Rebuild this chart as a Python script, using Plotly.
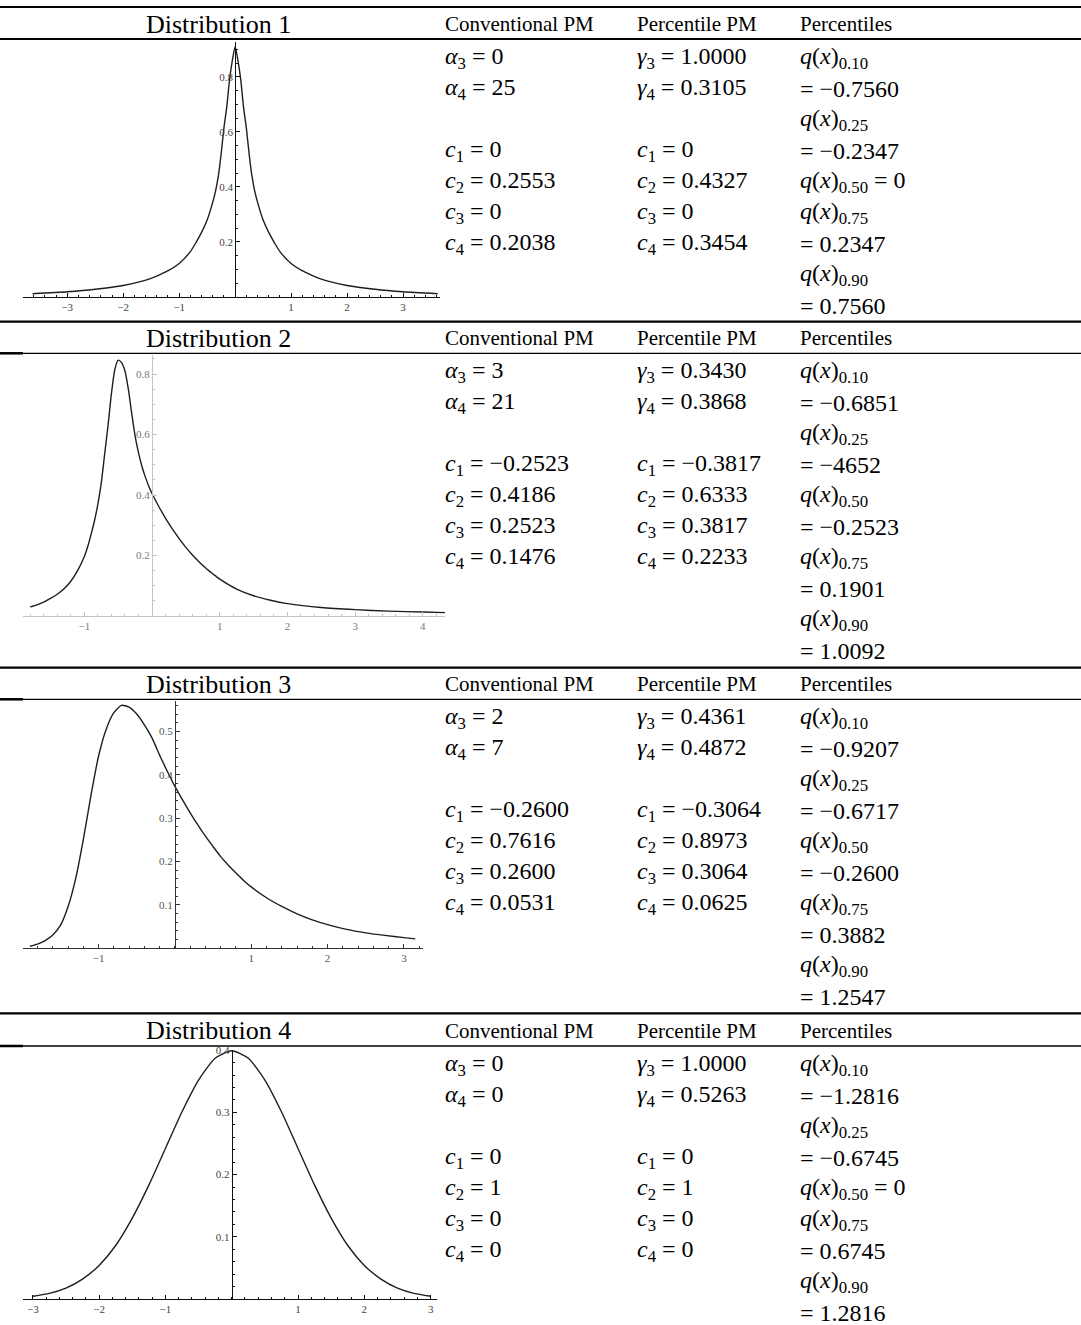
import plotly.graph_objects as go

W, H = 1081, 1325

# ---------------- data ----------------
dist_names = ["Distribution 1", "Distribution 2", "Distribution 3", "Distribution 4"]
col_headers = ["Conventional PM", "Percentile PM", "Percentiles"]

d1_x = [-3.62, -3.0, -2.5, -2.0, -1.5, -1.25, -1.0, -0.8, -0.7, -0.6, -0.5, -0.4, -0.35, -0.3, -0.25, -0.2,
        -0.15, -0.1, -0.05, 0.0, 0.05, 0.1, 0.15, 0.2, 0.25, 0.3, 0.35, 0.4, 0.5, 0.6, 0.7, 0.8, 1.0, 1.25,
        1.5, 2.0, 2.5, 3.0, 3.62]
d1_y = [0.012, 0.019, 0.028, 0.042, 0.068, 0.09, 0.122, 0.165, 0.198, 0.235, 0.28, 0.345, 0.385, 0.44, 0.52, 0.615,
        0.69, 0.79, 0.86, 0.91, 0.86, 0.79, 0.69, 0.615, 0.52, 0.44, 0.385, 0.345, 0.28, 0.235, 0.198, 0.165, 0.122, 0.09,
        0.068, 0.042, 0.028, 0.019, 0.012]

d2_x = [-1.8, -1.7, -1.6, -1.5, -1.4, -1.3, -1.2, -1.1, -1.0, -0.95, -0.9, -0.85, -0.8, -0.75, -0.7, -0.65,
        -0.6, -0.55, -0.5, -0.45, -0.4, -0.35, -0.3, -0.25, -0.2, -0.15, -0.1, -0.05, 0.0, 0.1, 0.2, 0.3,
        0.4, 0.5, 0.6, 0.7, 0.8, 0.9, 1.0, 1.25, 1.5, 1.75, 2.0, 2.5, 3.0, 3.5, 4.0, 4.33]
d2_y = [0.030, 0.037, 0.046, 0.058, 0.072, 0.090, 0.115, 0.150, 0.197, 0.230, 0.270, 0.315, 0.370, 0.440, 0.535, 0.630,
        0.735, 0.815, 0.846, 0.838, 0.810, 0.750, 0.670, 0.595, 0.540, 0.495, 0.460, 0.430, 0.405, 0.362, 0.323, 0.288,
        0.256, 0.227, 0.201, 0.178, 0.157, 0.139, 0.122, 0.089, 0.067, 0.052, 0.041, 0.028, 0.021, 0.016, 0.013, 0.011]

d3_x = [-1.9, -1.8, -1.7, -1.6, -1.5, -1.4, -1.3, -1.2, -1.1, -1.0, -0.9, -0.8, -0.7, -0.6, -0.5, -0.4,
        -0.3, -0.2, -0.1, 0.0, 0.1, 0.2, 0.3, 0.4, 0.5, 0.6, 0.7, 0.8, 0.9, 1.0, 1.2, 1.4, 1.6, 1.8, 2.0,
        2.25, 2.5, 2.75, 3.0, 3.15]
d3_y = [0.004, 0.009, 0.017, 0.030, 0.052, 0.095, 0.160, 0.250, 0.352, 0.443, 0.505, 0.543, 0.560, 0.556, 0.540, 0.515,
        0.485, 0.445, 0.408, 0.373, 0.342, 0.312, 0.284, 0.258, 0.234, 0.211, 0.191, 0.173, 0.156, 0.141, 0.116, 0.096,
        0.079, 0.065, 0.054, 0.043, 0.035, 0.029, 0.024, 0.021]

d4_x = [-3.0, -2.75, -2.5, -2.25, -2.0, -1.75, -1.5, -1.25, -1.0, -0.75, -0.5, -0.25, 0.0,
        0.25, 0.5, 0.75, 1.0, 1.25, 1.5, 1.75, 2.0, 2.25, 2.5, 2.75, 3.0]
d4_y = [0.0044, 0.009, 0.0175, 0.032, 0.054, 0.086, 0.13, 0.183, 0.242, 0.301, 0.352, 0.387, 0.399,
        0.387, 0.352, 0.301, 0.242, 0.183, 0.13, 0.086, 0.054, 0.032, 0.0175, 0.009, 0.0044]

curves_x = [d1_x, d2_x, d3_x, d4_x]
curves_y = [d1_y, d2_y, d3_y, d4_y]

x_tick_vals = [[-3, -2, -1, 1, 2, 3], [-1, 1, 2, 3, 4], [-1, 1, 2, 3], [-3, -2, -1, 1, 2, 3]]
x_tick_text = [["−3", "−2", "−1", "1", "2", "3"], ["−1", "1", "2", "3", "4"],
               ["−1", "1", "2", "3"], ["−3", "−2", "−1", "1", "2", "3"]]
y_tick_vals = [[0.2, 0.4, 0.6, 0.8], [0.2, 0.4, 0.6, 0.8], [0.1, 0.2, 0.3, 0.4, 0.5], [0.1, 0.2, 0.3, 0.4]]
y_tick_text = [["0.2", "0.4", "0.6", "0.8"], ["0.2", "0.4", "0.6", "0.8"],
               ["0.1", "0.2", "0.3", "0.4", "0.5"], ["0.1", "0.2", "0.3", "0.4"]]

alpha3 = ["0", "3", "2", "0"]
alpha4 = ["25", "21", "7", "0"]
conv_c = [["0", "0.2553", "0", "0.2038"],
          ["−0.2523", "0.4186", "0.2523", "0.1476"],
          ["−0.2600", "0.7616", "0.2600", "0.0531"],
          ["0", "1", "0", "0"]]
gamma3 = ["1.0000", "0.3430", "0.4361", "1.0000"]
gamma4 = ["0.3105", "0.3868", "0.4872", "0.5263"]
pct_c = [["0", "0.4327", "0", "0.3454"],
         ["−0.3817", "0.6333", "0.3817", "0.2233"],
         ["−0.3064", "0.8973", "0.3064", "0.0625"],
         ["0", "1", "0", "0"]]
pct_levels = ["0.10", "0.25", "0.50", "0.75", "0.90"]
percentiles = [["−0.7560", "−0.2347", "0", "0.2347", "0.7560"],
               ["−0.6851", "−4652", "−0.2523", "0.1901", "1.0092"],
               ["−0.9207", "−0.6717", "−0.2600", "0.3882", "1.2547"],
               ["−1.2816", "−0.6745", "0", "0.6745", "1.2816"]]

# ---------------- layout geometry (pixels) ----------------
row_top = [7, 321.7, 667.7, 1013.3]
row_head = [39, 353.3, 699.3, 1046]
plot_box = [  # left, right, top, bottom(px, y=0)
    (23, 440, 42, 297),
    (23, 445, 355, 616),
    (23, 423, 701, 948),
    (23, 437, 1050, 1299),
]
x_ranges = [[-3.79, 3.66], [-1.906, 4.327], [-1.99, 3.25], [-3.148, 3.096]]
y_ranges = [[0, 0.927], [0, 0.863], [0, 0.570], [0, 0.4003]]
y_minor = [0.05, 0.05, 0.02, 0.02]
axis_color = ["#111111", "#c4c4c4", "#333333", "#111111"]
label_color = ["#444444", "#7a7a7a", "#555555", "#444444"]
col_x = [443, 635, 798]
dist_center_x = 218.5
line_gap = 31
first_off = 19


def fx(px):
    return px / W


def fy(py):
    return 1 - py / H


fig = go.Figure()
layout = dict(width=W, height=H, margin=dict(l=0, r=0, t=0, b=0, pad=0, autoexpand=False),
              paper_bgcolor="white", plot_bgcolor="rgba(0,0,0,0)", showlegend=False)

tick_font_family = "Liberation Serif, Times New Roman, serif"

for i in range(4):
    n = i + 1
    xa = "xaxis" if n == 1 else f"xaxis{n}"
    ya = "yaxis" if n == 1 else f"yaxis{n}"
    xr = "x" if n == 1 else f"x{n}"
    yr = "y" if n == 1 else f"y{n}"
    l, r, t, b = plot_box[i]
    xdom = [fx(l), fx(r)]
    ydom = [fy(b), fy(t)]
    x0, x1 = x_ranges[i]
    ypos = xdom[0] + (0 - x0) / (x1 - x0) * (xdom[1] - xdom[0])
    layout[xa] = dict(domain=xdom, range=x_ranges[i], anchor=yr, showgrid=False, zeroline=False,
                      showline=True, linecolor=axis_color[i], linewidth=1, automargin=False,
                      ticks="inside", ticklen=4, tickwidth=1, tickcolor=axis_color[i],
                      tickmode="array", tickvals=x_tick_vals[i], ticktext=x_tick_text[i],
                      tickfont=dict(family=tick_font_family, size=11, color=label_color[i]),
                      minor=dict(ticks="inside", ticklen=2, tickwidth=1, tickcolor=axis_color[i],
                                 tick0=0, dtick=0.2, showgrid=False),
                      fixedrange=True)
    layout[ya] = dict(domain=ydom, range=y_ranges[i], anchor="free", position=ypos,
                      showgrid=False, zeroline=False, automargin=False,
                      showline=True, linecolor=axis_color[i], linewidth=1,
                      ticks="inside", ticklen=4, tickwidth=1, tickcolor=axis_color[i],
                      tickmode="array", tickvals=y_tick_vals[i], ticktext=y_tick_text[i],
                      tickfont=dict(family=tick_font_family, size=11, color=label_color[i]),
                      minor=dict(ticks="inside", ticklen=2, tickwidth=1, tickcolor=axis_color[i],
                                 tick0=0, dtick=y_minor[i], showgrid=False),
                      fixedrange=True)
    fig.add_trace(go.Scatter(x=curves_x[i], y=curves_y[i], mode="lines", xaxis=xr, yaxis=yr,
                             line=dict(color="#1e1e1e", width=1.4, shape="spline", smoothing=0.6),
                             hoverinfo="skip", cliponaxis=False))

# ---------------- table rules ----------------
shapes = []
for i in range(4):
    shapes.append(dict(type="line", xref="paper", yref="paper", x0=0, x1=1,
                       y0=fy(row_top[i]), y1=fy(row_top[i]), line=dict(color="black", width=2.2)))
    if i == 0:
        shapes.append(dict(type="line", xref="paper", yref="paper", x0=0, x1=1,
                           y0=fy(row_head[i]), y1=fy(row_head[i]), line=dict(color="black", width=2.2)))
    else:
        shapes.append(dict(type="line", xref="paper", yref="paper", x0=0, x1=1,
                           y0=fy(row_head[i]), y1=fy(row_head[i]), line=dict(color="black", width=1.3)))
        shapes.append(dict(type="line", xref="paper", yref="paper", x0=0, x1=fx(23),
                           y0=fy(row_head[i]), y1=fy(row_head[i]), line=dict(color="black", width=2.5)))
layout["shapes"] = shapes

# ---------------- text ----------------
annotations = []
head_font = dict(family="Liberation Serif, Times New Roman, serif", size=21, color="black")
dist_font = dict(family="Liberation Serif, Times New Roman, serif", size=26, color="black")
math_font = dict(family="Liberation Serif, Times New Roman, serif", size=24, color="black")


def add_text(txt, xpx, ypx, font, xanchor="left"):
    annotations.append(dict(text=txt, x=fx(xpx), y=fy(ypx), xref="paper", yref="paper",
                            xanchor=xanchor, yanchor="middle", showarrow=False, font=font))


def q_label(lv):
    return f"<i>q</i>(<i>x</i>)<sub>{lv}</sub>"


for i in range(4):
    hy = row_top[i] + (row_head[i] - row_top[i]) / 2 + 1
    add_text(dist_names[i], dist_center_x, hy, dist_font, xanchor="center")
    for j, h in enumerate(col_headers):
        add_text(h, col_x[j], hy, head_font)

    def ly(k):
        return row_head[i] + first_off + line_gap * k

    # conventional PM
    add_text(f"<i>α</i><sub>3</sub> = {alpha3[i]}", col_x[0], ly(0), math_font)
    add_text(f"<i>α</i><sub>4</sub> = {alpha4[i]}", col_x[0], ly(1), math_font)
    for k in range(4):
        add_text(f"<i>c</i><sub>{k + 1}</sub> = {conv_c[i][k]}", col_x[0], ly(3 + k), math_font)
    # percentile PM
    add_text(f"<i>γ</i><sub>3</sub> = {gamma3[i]}", col_x[1], ly(0), math_font)
    add_text(f"<i>γ</i><sub>4</sub> = {gamma4[i]}", col_x[1], ly(1), math_font)
    for k in range(4):
        add_text(f"<i>c</i><sub>{k + 1}</sub> = {pct_c[i][k]}", col_x[1], ly(3 + k), math_font)
    # percentiles
    k = 0
    for lv, val in zip(pct_levels, percentiles[i]):
        if len(val) <= 1:
            add_text(q_label(lv) + f" = {val}", col_x[2], ly(k), math_font)
            k += 1
        else:
            add_text(q_label(lv), col_x[2], ly(k), math_font)
            add_text(f"= {val}", col_x[2], ly(k + 1), math_font)
            k += 2

layout["annotations"] = annotations
fig.update_layout(**layout)
fig.write_html("out.html", config={"displayModeBar": False, "staticPlot": True},
               post_script="document.body.style.margin='0px';document.body.style.overflow='hidden';")
